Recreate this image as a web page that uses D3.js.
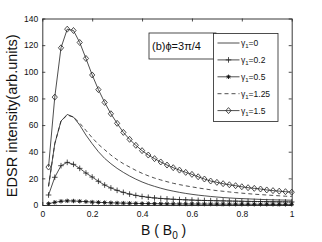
<!DOCTYPE html>
<html>
<head>
<meta charset="utf-8">
<script src="https://cdn.jsdelivr.net/npm/d3@7"></script>
<style>
  body { margin: 0; background: #fff; }
  text { font-family: "Liberation Sans", Arial, sans-serif; fill: #111; }
</style>
</head>
<body>
<script>
// B values, step 0.025
const bVals = d3.range(1, 41).map((k) => k * 0.025);

const g0 = [14, 46, 63, 68, 66, 60, 52.5, 46, 40, 35, 31, 27.5, 24.5, 21.8, 19.4, 17.3,
  15.5, 14, 12.6, 11.4, 10.4, 9.5, 8.7, 8, 7.4, 6.9, 6.4, 6, 5.6, 5.3, 5, 4.8, 4.6, 4.4,
  4.2, 4, 3.9, 3.8, 3.7, 3.6];
const g02 = [7.5, 20.8, 29.5, 32, 30.5, 27.5, 24, 21, 17.8, 15, 12.8, 11, 9.5, 8.2, 7.2,
  6.4, 5.8, 5.3, 4.9, 4.6, 4.3, 4.1, 3.9, 3.7, 3.5, 3.4, 3.3, 3.2, 3.1, 3, 2.9, 2.8, 2.7,
  2.65, 2.6, 2.5, 2.45, 2.4, 2.35, 2.3];
const g05 = [1, 2, 2.8, 3.1, 3, 2.8, 2.5, 2.2, 2, 1.8, 1.65, 1.5, 1.4, 1.3, 1.2, 1.1,
  1.05, 1, 0.95, 0.9, 0.85, 0.8, 0.78, 0.75, 0.72, 0.7, 0.68, 0.66, 0.64, 0.62, 0.6,
  0.58, 0.56, 0.55, 0.54, 0.53, 0.52, 0.51, 0.5, 0.5];
const g125 = [14, 46, 63, 67.5, 66, 61.5, 56, 50.5, 45.5, 41.5, 37.5, 34, 31, 28.5, 26,
  23.8, 21.9, 20.2, 18.8, 17.5, 16.3, 15.3, 14.4, 13.6, 12.8, 12.1, 11.4, 10.8, 10.3, 9.8,
  9.3, 8.9, 8.5, 8.1, 7.8, 7.5, 7.2, 6.9, 6.6, 6.4];
const g15 = [28.5, 81, 118, 132, 131, 122, 110, 97.6, 86.6, 77, 68.5, 61.3, 54.5, 49.3,
  44.8, 40.8, 37.5, 34.8, 32.3, 30, 28, 26.2, 24.5, 23, 21.2, 19.5, 18, 17, 16, 15.2,
  14.5, 13.7, 13, 12.5, 12, 11.3, 10.8, 10.4, 10, 9.6];

const legendLabels = ['0', '0.2', '0.5', '1.25', '1.5'];
const xTicks = [0, 0.2, 0.4, 0.6, 0.8, 1];
const yTicks = [0, 20, 40, 60, 80, 100, 120, 140];

const W = 322, H = 242;
const svg = d3.select('body').append('svg').attr('width', W).attr('height', H);

const x = d3.scaleLinear().domain([0, 1]).range([42.3, 291.7]);
const y = d3.scaleLinear().domain([0, 140]).range([205, 18.5]);

const series = [
  { vals: g0, dash: null, mark: null },
  { vals: g02, dash: null, mark: 'plus' },
  { vals: g05, dash: null, mark: 'star' },
  { vals: g125, dash: '4,3', mark: null },
  { vals: g15, dash: null, mark: 'diamond' },
];

const line = d3.line().x((d) => x(d[0])).y((d) => y(d[1]));

function drawMark(sel, type, cx, cy) {
  if (type === 'diamond') {
    sel.append('path')
      .attr('d', `M${cx},${cy - 3}L${cx + 2.6},${cy}L${cx},${cy + 3}L${cx - 2.6},${cy}Z`)
      .attr('fill', 'none').attr('stroke', '#222').attr('stroke-width', 0.8);
  } else if (type === 'plus') {
    sel.append('path')
      .attr('d', `M${cx - 2.8},${cy}H${cx + 2.8}M${cx},${cy - 2.8}V${cy + 2.8}`)
      .attr('stroke', '#222').attr('stroke-width', 0.8);
  } else if (type === 'star') {
    sel.append('path')
      .attr('d', `M${cx - 2.2},${cy}H${cx + 2.2}M${cx},${cy - 2.2}V${cy + 2.2}` +
        `M${cx - 1.6},${cy - 1.6}L${cx + 1.6},${cy + 1.6}M${cx - 1.6},${cy + 1.6}L${cx + 1.6},${cy - 1.6}`)
      .attr('stroke', '#111').attr('stroke-width', 0.9);
  }
}

const plot = svg.append('g');
series.forEach((s) => {
  const pts = bVals.map((b, i) => [b, s.vals[i]]);
  plot.append('path')
    .attr('d', line(pts))
    .attr('fill', 'none')
    .attr('stroke', '#222')
    .attr('stroke-width', 0.8)
    .attr('stroke-dasharray', s.dash);
  if (s.mark) pts.forEach((p) => drawMark(plot, s.mark, x(p[0]), y(p[1])));
});

// axes box, ticks inward on all four sides
const axB = svg.append('g').attr('transform', `translate(0,${y(0)})`)
  .call(d3.axisBottom(x).tickValues(xTicks).tickSizeInner(-3).tickSizeOuter(0).tickPadding(6)
    .tickFormat((d) => d3.format('~g')(d)));
const axT = svg.append('g').attr('transform', `translate(0,${y(140)})`)
  .call(d3.axisTop(x).tickValues(xTicks).tickSizeInner(-3).tickSizeOuter(0).tickFormat(''));
const axL = svg.append('g').attr('transform', `translate(${x(0)},0)`)
  .call(d3.axisLeft(y).tickValues(yTicks).tickSizeInner(-3).tickSizeOuter(0).tickPadding(4));
const axR = svg.append('g').attr('transform', `translate(${x(1)},0)`)
  .call(d3.axisRight(y).tickValues(yTicks).tickSizeInner(-3).tickSizeOuter(0).tickFormat(''));
[axB, axT, axL, axR].forEach((a) => {
  a.selectAll('path.domain').attr('stroke', '#222').attr('stroke-width', 0.9);
  a.selectAll('line').attr('stroke', '#222').attr('stroke-width', 0.8);
  a.selectAll('text').style('font-family', '"Liberation Sans", Arial, sans-serif')
    .style('font-size', '8.5px').attr('fill', '#111');
});

// axis titles
svg.append('text')
  .attr('transform', `translate(17,${(y(0) + y(140)) / 2 + 4}) rotate(-90)`)
  .attr('text-anchor', 'middle')
  .style('font-size', '14.5px')
  .text('EDSR intensity(arb.units)');

const xl = svg.append('text')
  .attr('x', 141)
  .attr('y', 235)
  .style('font-size', '14px');
xl.append('tspan').text('B ( B');
xl.append('tspan').attr('dy', 4).style('font-size', '10px').text('0');
xl.append('tspan').attr('dy', -4).text(' )');

// annotation box
svg.append('rect')
  .attr('x', 149).attr('y', 33).attr('width', 67).attr('height', 26)
  .attr('fill', '#fff').attr('stroke', '#222').attr('stroke-width', 0.8);
svg.append('text')
  .attr('x', 152).attr('y', 50)
  .style('font-size', '11px')
  .text('(b)\u03d5=3\u03c0/4');

// legend
const lg = svg.append('g');
lg.append('rect')
  .attr('x', 213.5).attr('y', 33.5).attr('width', 64.5).attr('height', 88)
  .attr('fill', '#fff').attr('stroke', '#222').attr('stroke-width', 0.8);
series.forEach((s, i) => {
  const ly = 43 + i * 16.9;
  lg.append('line')
    .attr('x1', 217.5).attr('x2', 239.5).attr('y1', ly).attr('y2', ly)
    .attr('stroke', '#222').attr('stroke-width', 0.8)
    .attr('stroke-dasharray', s.dash);
  if (s.mark) drawMark(lg, s.mark, 228.5, ly);
  const t = lg.append('text').attr('x', 241).attr('y', ly + 3).style('font-size', '8.5px');
  t.append('tspan').text('\u03b3');
  t.append('tspan').attr('dy', 2).style('font-size', '6px').text('1');
  t.append('tspan').attr('dy', -2).text('=' + legendLabels[i]);
});
</script>
</body>
</html>
